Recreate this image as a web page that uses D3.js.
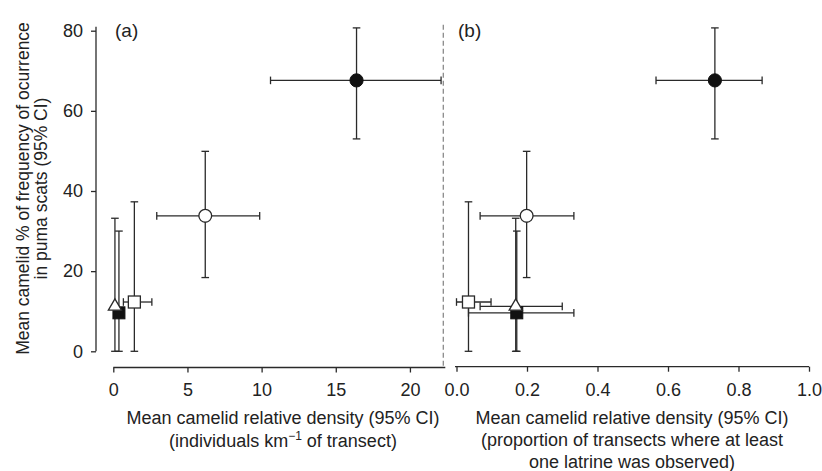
<!DOCTYPE html>
<html>
<head>
<meta charset="utf-8">
<script src="https://cdn.jsdelivr.net/npm/d3@7"></script>
<style>
  html, body { margin: 0; padding: 0; background: #fff; }
  svg { display: block; }
  text { font-family: "Liberation Sans", Arial, Helvetica, sans-serif; fill: #222; }
</style>
</head>
<body>
<svg id="chart" width="822" height="471"></svg>
<script>
// ---- Data ----
const groups   = ["filledCircle", "openCircle", "openSquare", "triangle", "filledSquare"];
const yMean    = [67.6, 33.8, 12.3, 11.2, 9.6];
const yLow     = [53.0, 18.4, 0.0, 0.0, 0.0];
const yHigh    = [80.7, 49.9, 37.3, 33.2, 30.0];
// Panel (a): individuals km-1 of transect
const xaMean   = [16.4, 6.2, 1.42, 0.11, 0.38];
const xaLow    = [10.6, 2.93, 0.68, null, null];
const xaHigh   = [22.1, 9.87, 2.6, null, null];
// Panel (b): proportion of transects with at least one latrine
const xbMean   = [0.733, 0.199, 0.034, 0.168, 0.171];
const xbLow    = [0.566, 0.067, 0.0, 0.067, 0.034];
const xbHigh   = [0.867, 0.333, 0.098, 0.30, 0.333];

const yTicks   = [0, 20, 40, 60, 80];
const xaTicks  = [0, 5, 10, 15, 20];
const xbTicks  = [0, 0.2, 0.4, 0.6, 0.8, 1.0];
const yTitle   = ["Mean camelid % of frequency of ocurrence", "in puma scats (95% CI)"];
const xaTitle  = ["Mean camelid relative density (95% CI)"];
const xbTitle  = ["Mean camelid relative density (95% CI)",
                  "(proportion of transects where at least",
                  "one latrine was observed)"];
const panelLabels = ["(a)", "(b)"];

// ---- Layout ----
const svg = d3.select("#chart");
const ink = "#2a2a2a";
const fs = 18;
const y  = d3.scaleLinear().domain([0, 80]).range([351.3, 30.7]);
const xa = d3.scaleLinear().domain([0, 22.25]).range([113.3, 443.3]);
const xb = d3.scaleLinear().domain([0, 1]).range([456.5, 809]);
const axisY = 367.5;

function styleAxis(g) {
  g.selectAll(".tick line").attr("stroke", ink).attr("stroke-width", 1.3);
  g.selectAll(".tick text").attr("font-size", fs).attr("fill", ink)
    .style("font-family", '"Liberation Sans", Arial, sans-serif');
}

// Y axis
const gy = svg.append("g").attr("transform", "translate(96,0)")
  .call(d3.axisLeft(y).tickValues(yTicks).tickSize(5).tickSizeOuter(0).tickPadding(8));
gy.select(".domain").attr("stroke", ink).attr("stroke-width", 1.3)
  .attr("d", `M0,${y(0)}V${y(81)}`);
styleAxis(gy);

// X axis (a)
const gxa = svg.append("g").attr("transform", `translate(0,${axisY})`)
  .call(d3.axisBottom(xa).tickValues(xaTicks).tickSize(5).tickSizeOuter(0).tickPadding(10.5));
gxa.select(".domain").attr("stroke", ink).attr("stroke-width", 1.3)
  .attr("d", `M${xa(0)},0H${xa(22.25) + 2}`);
styleAxis(gxa);

// X axis (b)
const gxb = svg.append("g").attr("transform", `translate(0,${axisY - 0.8})`)
  .call(d3.axisBottom(xb).tickValues(xbTicks).tickFormat(d3.format(".1f"))
        .tickSize(5).tickSizeOuter(0).tickPadding(11.3));
gxb.select(".domain").attr("stroke", ink).attr("stroke-width", 1.3)
  .attr("d", `M${xb(0) - 1.5},0H${xb(1)}`);
styleAxis(gxb);

// Dashed separator
svg.append("line")
  .attr("x1", xa(22.25)).attr("x2", xa(22.25))
  .attr("y1", y(81.5)).attr("y2", axisY - 1)
  .attr("stroke", "#8a8a8a").attr("stroke-width", 1.3)
  .attr("stroke-dasharray", "5,3");

// Panel labels
svg.append("text").attr("x", 115).attr("y", 37).attr("font-size", 19).attr("fill", ink).text(panelLabels[0]);
svg.append("text").attr("x", 458).attr("y", 37).attr("font-size", 19).attr("fill", ink).text(panelLabels[1]);

// Y axis title
const yt = svg.append("text").attr("transform", "translate(0,188.5) rotate(-90)")
  .attr("text-anchor", "middle").attr("font-size", 17.5).attr("fill", ink);
yt.append("tspan").attr("x", 0).attr("y", 28.5).text(yTitle[0]);
yt.append("tspan").attr("x", 0).attr("y", 47).text(yTitle[1]);

// X axis titles
const xta = svg.append("text").attr("text-anchor", "middle").attr("font-size", fs).attr("fill", ink);
xta.append("tspan").attr("x", 283).attr("y", 423.5).text(xaTitle[0]);
const l2 = xta.append("tspan").attr("x", 283).attr("y", 446.5);
l2.append("tspan").text("(individuals km");
l2.append("tspan").attr("font-size", 12).attr("dy", -6.5).text("\u22121");
l2.append("tspan").attr("dy", 6.5).text(" of transect)");

const xtb = svg.append("text").attr("text-anchor", "middle").attr("font-size", fs).attr("fill", ink);
xbTitle.forEach((t, i) => {
  xtb.append("tspan").attr("x", 632).attr("y", 423.5 + i * 22).text(t);
});

// ---- Marks ----
function drawPanel(xs, xm, xl, xh) {
  const g = svg.append("g");
  const cap = 3.8;
  const data = groups.map((k, i) => ({k, i, x: xm[i], xl: xl[i], xh: xh[i], y: yMean[i], yl: yLow[i], yh: yHigh[i]}));
  data.forEach(d => {
    const eg = g.append("g").attr("stroke", ink).attr("stroke-width", 1.3).attr("fill", "none");
    const cx = xs(d.x), cy = y(d.y);
    eg.append("line").attr("x1", cx).attr("x2", cx).attr("y1", y(d.yl)).attr("y2", y(d.yh));
    eg.append("line").attr("x1", cx - cap).attr("x2", cx + cap).attr("y1", y(d.yl)).attr("y2", y(d.yl));
    eg.append("line").attr("x1", cx - cap).attr("x2", cx + cap).attr("y1", y(d.yh)).attr("y2", y(d.yh));
    if (d.xl !== null) {
      eg.append("line").attr("x1", xs(d.xl)).attr("x2", xs(d.xh)).attr("y1", cy).attr("y2", cy);
      eg.append("line").attr("x1", xs(d.xl)).attr("x2", xs(d.xl)).attr("y1", cy - cap).attr("y2", cy + cap);
      eg.append("line").attr("x1", xs(d.xh)).attr("x2", xs(d.xh)).attr("y1", cy - cap).attr("y2", cy + cap);
    }
  });
  const order = [4, 3, 2, 1, 0];
  order.forEach(i => {
    const d = data[i];
    const cx = xs(d.x), cy = y(d.y);
    if (d.k === "filledCircle") {
      g.append("circle").attr("cx", cx).attr("cy", cy).attr("r", 6.6).attr("fill", "#111").attr("stroke", "#111");
    } else if (d.k === "openCircle") {
      g.append("circle").attr("cx", cx).attr("cy", cy).attr("r", 6.4).attr("fill", "#fff").attr("stroke", ink).attr("stroke-width", 1.3);
    } else if (d.k === "openSquare") {
      g.append("rect").attr("x", cx - 6).attr("y", cy - 6).attr("width", 12).attr("height", 12)
        .attr("fill", "#fff").attr("stroke", ink).attr("stroke-width", 1.3);
    } else if (d.k === "filledSquare") {
      g.append("rect").attr("x", cx - 6).attr("y", cy - 6).attr("width", 12).attr("height", 12)
        .attr("fill", "#111").attr("stroke", "#111");
    } else if (d.k === "triangle") {
      const s = d3.symbol().type(d3.symbolTriangle).size(75);
      g.append("path").attr("d", s()).attr("transform", `translate(${cx},${cy})`)
        .attr("fill", "#fff").attr("stroke", ink).attr("stroke-width", 1.3);
    }
  });
}
drawPanel(xa, xaMean, xaLow, xaHigh);
drawPanel(xb, xbMean, xbLow, xbHigh);
</script>
</body>
</html>
